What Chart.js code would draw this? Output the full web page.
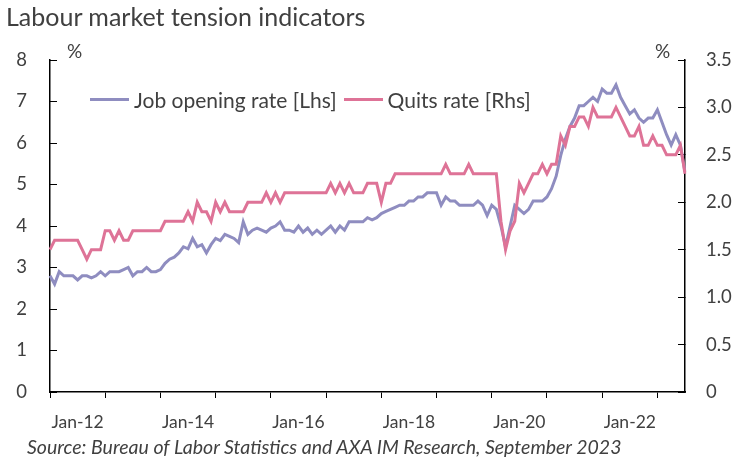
<!DOCTYPE html>
<html>
<head>
<meta charset="utf-8">
<script src="https://cdn.jsdelivr.net/npm/chart.js@4.4.0/dist/chart.umd.min.js"></script>
<style>
body { margin: 0; background: #fff; }
#wrap { position: relative; width: 745px; height: 460px; font-family: Lato, "Open Sans", sans-serif; color: #404040; }
#chart { position: absolute; left: 0; top: 0; }
.txt { position: absolute; white-space: nowrap; }
#title { left: 6px; top: 1px; font-size: 25px; }
#source { left: 27px; top: 435px; font-size: 19.5px; font-style: italic; }
.pct { top: 39px; font-size: 19px; }
#legend { left: 90px; top: 87px; font-size: 21px; display: flex; align-items: center; }
.key { display: inline-block; width: 39px; height: 3px; margin-right: 5px; }
</style>
</head>
<body>
<div id="wrap">
  <canvas id="chart" width="745" height="460"></canvas>
  <div class="txt" id="title">Labour market tension indicators</div>
  <div class="txt pct" style="left:67px">%</div>
  <div class="txt pct" style="left:655px">%</div>
  <div class="txt" id="legend">
    <span class="key" style="background:#8F8DC0"></span><span style="margin-right:7px">Job opening rate [Lhs]</span>
    <span class="key" style="background:#DE7397"></span><span>Quits rate [Rhs]</span>
  </div>
  <div class="txt" id="source">Source: Bureau of Labor Statistics and AXA IM Research, September 2023</div>
</div>
<script>
// monthly, Jan 2012 .. Jul 2023
const startYear = 2012;
const monthCount = 139;
const monthNames = ['Jan','Feb','Mar','Apr','May','Jun','Jul','Aug','Sep','Oct','Nov','Dec'];

// job opening rate, % (left axis)
const jobOpenings = [
  2.8, 2.6, 2.9, 2.8, 2.8, 2.8, 2.7, 2.8, 2.8, 2.75,
  2.8, 2.9, 2.8, 2.9, 2.9, 2.9, 2.95, 3.0, 2.8, 2.9,
  2.9, 3.0, 2.9, 2.9, 2.95, 3.1, 3.2, 3.25, 3.35, 3.5,
  3.45, 3.7, 3.5, 3.55, 3.35, 3.55, 3.7, 3.65, 3.8, 3.75,
  3.7, 3.6, 4.1, 3.8, 3.9, 3.95, 3.9, 3.85, 3.95, 4.0,
  4.1, 3.9, 3.9, 3.85, 4.0, 3.85, 3.95, 3.8, 3.9, 3.8,
  3.9, 4.0, 3.85, 4.0, 3.9, 4.1, 4.1, 4.1, 4.1, 4.2,
  4.15, 4.2, 4.3, 4.35, 4.4, 4.45, 4.5, 4.5, 4.6, 4.6,
  4.7, 4.7, 4.8, 4.8, 4.8, 4.5, 4.7, 4.6, 4.6, 4.5,
  4.5, 4.5, 4.5, 4.6, 4.5, 4.25, 4.5, 4.4, 4.0, 3.5,
  4.0, 4.5, 4.4, 4.3, 4.4, 4.6, 4.6, 4.6, 4.7, 4.9,
  5.2, 5.7, 6.1, 6.4, 6.6, 6.9, 6.9, 7.0, 7.1, 7.0,
  7.3, 7.2, 7.2, 7.4, 7.1, 6.9, 6.7, 6.8, 6.6, 6.5,
  6.6, 6.6, 6.8, 6.5, 6.2, 5.95, 6.2, 5.95, 5.3
];

// quits rate, % (right axis)
const quits = [
  1.5, 1.6, 1.6, 1.6, 1.6, 1.6, 1.6, 1.5, 1.4, 1.5,
  1.5, 1.5, 1.7, 1.7, 1.6, 1.7, 1.6, 1.6, 1.7, 1.7,
  1.7, 1.7, 1.7, 1.7, 1.7, 1.8, 1.8, 1.8, 1.8, 1.8,
  1.9, 1.8, 2.0, 1.9, 1.9, 1.8, 2.0, 1.9, 2.0, 1.9,
  1.9, 1.9, 1.9, 2.0, 2.0, 2.0, 2.0, 2.1, 2.0, 2.1,
  2.0, 2.1, 2.1, 2.1, 2.1, 2.1, 2.1, 2.1, 2.1, 2.1,
  2.1, 2.2, 2.1, 2.2, 2.1, 2.2, 2.1, 2.1, 2.1, 2.2,
  2.2, 2.2, 2.0, 2.2, 2.2, 2.3, 2.3, 2.3, 2.3, 2.3,
  2.3, 2.3, 2.3, 2.3, 2.3, 2.3, 2.4, 2.3, 2.3, 2.3,
  2.3, 2.4, 2.3, 2.3, 2.3, 2.3, 2.3, 2.3, 1.8, 1.5,
  1.7, 1.8, 2.2, 2.1, 2.2, 2.3, 2.3, 2.4, 2.3, 2.4,
  2.4, 2.7, 2.6, 2.8, 2.8, 2.9, 2.9, 2.8, 3.0, 2.9,
  2.9, 2.9, 2.9, 3.0, 2.9, 2.8, 2.7, 2.7, 2.8, 2.6,
  2.6, 2.7, 2.6, 2.6, 2.5, 2.5, 2.5, 2.6, 2.3
];

const months = [];
for (let i = 0; i < monthCount; i++) {
  const y = startYear + Math.floor(i / 12);
  months.push(monthNames[i % 12] + '-' + String(y).slice(2));
}

const textColor = '#404040';
const fontFamily = 'Lato, "Open Sans", sans-serif';

new Chart(document.getElementById('chart'), {
  type: 'line',
  data: {
    labels: months,
    datasets: [{
      label: 'Quits rate [Rhs]',
      data: quits,
      yAxisID: 'y1',
      borderColor: '#DE7397',
      borderWidth: 3,
      pointRadius: 0,
      order: 0
    }, {
      label: 'Job opening rate [Lhs]',
      data: jobOpenings,
      yAxisID: 'y',
      borderColor: '#8F8DC0',
      borderWidth: 3,
      pointRadius: 0,
      order: 1
    }]
  },
  options: {
    responsive: false,
    animation: false,
    layout: { padding: { top: 60, bottom: 30, left: 0, right: 0 } },
    plugins: { legend: { display: false }, tooltip: { enabled: false } },
    scales: {
      x: {
        offset: false,
        border: { color: '#000', width: 1.5 },
        grid: {
          drawOnChartArea: false,
          tickLength: 6,
          color: ctx => (ctx.index % 12 === 0 ? '#000' : 'rgba(0,0,0,0)')
        },
        ticks: {
          autoSkip: false,
          maxRotation: 0,
          minRotation: 0,
          padding: 14,
          color: textColor,
          font: { family: fontFamily, size: 17.5 },
          // year labels sit in the middle of the year, every 2 years
          callback: function(value, index) {
            return index % 24 === 6 ? this.getLabelForValue(index - 6) : '';
          }
        },
        afterFit: scale => { scale.height = 38; }
      },
      y: {
        position: 'left',
        min: 0,
        max: 8,
        border: { color: '#000', width: 1.5 },
        grid: { drawOnChartArea: false, tickLength: -7, color: '#000' },
        ticks: { stepSize: 1, padding: 30, color: textColor, font: { family: fontFamily, size: 18.5 } },
        afterFit: scale => { scale.width = 50; }
      },
      y1: {
        position: 'right',
        min: 0,
        max: 3.5,
        border: { color: '#000', width: 1.5 },
        grid: { drawOnChartArea: false, tickLength: -7, color: '#000' },
        ticks: { stepSize: 0.5, padding: 28, color: textColor, font: { family: fontFamily, size: 18.5 } },
        afterFit: scale => { scale.width = 60; }
      }
    }
  }
});
</script>
</body>
</html>
